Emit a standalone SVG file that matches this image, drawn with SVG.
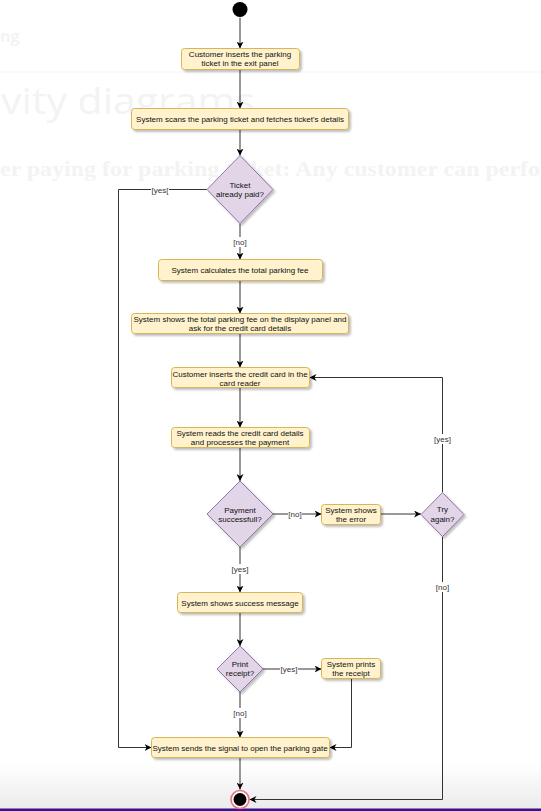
<svg xmlns="http://www.w3.org/2000/svg" width="541" height="811" viewBox="0 0 541 811">
  <defs>
    <style>
      .page-faint { fill: #f3f3f3; }
      .box { fill: #fff2cc; stroke: #d6b656; stroke-width: 1; filter: url(#shadow); }
      .dec { fill: #e1d5e7; stroke: #9673a6; stroke-width: 1; filter: url(#shadow); }
      .t { font-family: "Liberation Sans", Arial, Helvetica, sans-serif; font-size: 8px; fill: #111; text-anchor: middle; }
      .lbl { font-family: "Liberation Sans", Arial, Helvetica, sans-serif; font-size: 8px; fill: #333; text-anchor: middle; }
      .lblbg { fill: #fff; }
      .edge { fill: none; stroke: #333; stroke-width: 1; }
      .arrow { marker-end: url(#arr); }
    </style>
    <filter id="shadow" x="-20%" y="-30%" width="150%" height="180%">
      <feDropShadow dx="2" dy="2" stdDeviation="0.8" flood-color="#000" flood-opacity="0.25"/>
    </filter>
    <marker id="arr" viewBox="0 0 10 10" refX="10" refY="5" markerWidth="7" markerHeight="7" orient="auto" markerUnits="userSpaceOnUse">
      <path d="M0,0 L10,5 L0,10 L3,5 z" fill="#000"/>
    </marker>
    <linearGradient id="floor" x1="0" y1="0" x2="0" y2="1">
      <stop offset="0" stop-color="#ffffff"/>
      <stop offset="1" stop-color="#ebebeb"/>
    </linearGradient>
  </defs>

  <!-- page background behind the diagram -->
  <rect x="0" y="0" width="541" height="811" fill="#ffffff"/>
  <text class="page-faint" x="0" y="42" font-family="'Open Sans', 'Noto Sans', sans-serif" font-size="16" font-weight="bold">ng</text>
  <rect x="0" y="71.5" width="541" height="1" fill="#f5f5f5"/>
  <text class="page-faint" x="1" y="114" font-family="'Open Sans', 'Noto Sans', sans-serif" font-size="37" textLength="254" lengthAdjust="spacingAndGlyphs">vity diagrams</text>
  <text class="page-faint" x="0" y="176" font-family="'Liberation Serif', 'DejaVu Serif', serif" font-size="21" font-weight="bold" textLength="540" lengthAdjust="spacingAndGlyphs">er paying for parking ticket: Any customer can perfo</text>
  <rect x="0" y="764" width="541" height="45" fill="url(#floor)"/>
  <rect x="0" y="808.5" width="541" height="2.5" fill="#3a118e"/>

  <!-- connectors -->
  <g id="connectors">
    <path class="edge arrow" d="M240,17.5 V48.5"/>
    <path class="edge arrow" d="M240,69.5 V108.5"/>
    <path class="edge arrow" d="M240,129.5 V155.5"/>
    <path class="edge arrow" d="M240,223.5 V259.5"/>
    <path class="edge arrow" d="M207,189.5 H118.5 V747.5 H151.5"/>
    <path class="edge arrow" d="M240,280.5 V313.5"/>
    <path class="edge arrow" d="M240,333.5 V367.5"/>
    <path class="edge arrow" d="M240,387.5 V427.5"/>
    <path class="edge arrow" d="M240,447.5 V481"/>
    <path class="edge arrow" d="M273,514 H321.5"/>
    <path class="edge arrow" d="M380.5,514 H421"/>
    <path class="edge arrow" d="M442.5,492.5 V377.5 H309.5"/>
    <path class="edge arrow" d="M442.5,536.5 V799.5 H249.5"/>
    <path class="edge arrow" d="M240,547 V592.5"/>
    <path class="edge arrow" d="M240,612.5 V646"/>
    <path class="edge arrow" d="M263,669 H321.5"/>
    <path class="edge arrow" d="M351.5,678.5 V747.5 H329.5"/>
    <path class="edge arrow" d="M240,692 V737.5"/>
    <path class="edge arrow" d="M240,757.5 V789.5"/>

    <!-- guard labels -->
    <rect class="lblbg" x="233" y="237" width="14" height="10"/>
    <text class="lbl" x="240" y="245">[no]</text>
    <rect class="lblbg" x="151" y="184.5" width="18" height="10"/>
    <text class="lbl" x="160" y="192.5">[yes[</text>
    <rect class="lblbg" x="288" y="509" width="14" height="10"/>
    <text class="lbl" x="295" y="517">[no]</text>
    <rect class="lblbg" x="433.5" y="434" width="18" height="10"/>
    <text class="lbl" x="442.5" y="442">[yes]</text>
    <rect class="lblbg" x="435.5" y="582" width="14" height="10"/>
    <text class="lbl" x="442.5" y="590">[no]</text>
    <rect class="lblbg" x="231" y="564" width="18" height="10"/>
    <text class="lbl" x="240" y="572">[yes]</text>
    <rect class="lblbg" x="280" y="664" width="18" height="10"/>
    <text class="lbl" x="289" y="672">[yes]</text>
    <rect class="lblbg" x="233" y="708" width="14" height="10"/>
    <text class="lbl" x="240" y="716">[no]</text>
  </g>

  <!-- nodes -->
  <g id="start">
    <circle cx="240" cy="9.5" r="7.5" fill="#000"/>
  </g>
  <g id="insert-ticket">
    <rect class="box" x="181.5" y="48.5" width="118" height="21" rx="3"/>
    <text class="t" x="240" y="57">Customer inserts the parking</text>
    <text class="t" x="240" y="66">ticket in the exit panel</text>
  </g>
  <g id="scan-ticket">
    <rect class="box" x="131.5" y="108.5" width="217" height="21" rx="3"/>
    <text class="t" x="240" y="121.5">System scans the parking ticket and fetches ticket's details</text>
  </g>
  <g id="ticket-paid">
    <polygon class="dec" points="240,155.5 273,189.5 240,223.5 207,189.5"/>
    <text class="t" x="240" y="188">Ticket</text>
    <text class="t" x="240" y="197">already paid?</text>
  </g>
  <g id="calc-fee">
    <rect class="box" x="158.5" y="259.5" width="164" height="21" rx="3"/>
    <text class="t" x="240" y="272.5">System calculates the total parking fee</text>
  </g>
  <g id="show-fee">
    <rect class="box" x="131.5" y="313.5" width="217" height="20" rx="3"/>
    <text class="t" x="240" y="322">System shows the total parking fee on the display panel and</text>
    <text class="t" x="240" y="331">ask for the credit card details</text>
  </g>
  <g id="insert-card">
    <rect class="box" x="171.5" y="367.5" width="138" height="20" rx="3"/>
    <text class="t" x="240" y="376.5">Customer inserts the credit card in the</text>
    <text class="t" x="240" y="385.5">card reader</text>
  </g>
  <g id="process-payment">
    <rect class="box" x="171.5" y="427.5" width="138" height="20" rx="3"/>
    <text class="t" x="240" y="436">System reads the credit card details</text>
    <text class="t" x="240" y="445">and processes the payment</text>
  </g>
  <g id="payment-ok">
    <polygon class="dec" points="240,481 273,514 240,547 207,514"/>
    <text class="t" x="240" y="513">Payment</text>
    <text class="t" x="240" y="522">successfull?</text>
  </g>
  <g id="show-error">
    <rect class="box" x="321.5" y="504.5" width="59" height="20" rx="3"/>
    <text class="t" x="351" y="513">System shows</text>
    <text class="t" x="351" y="522">the error</text>
  </g>
  <g id="try-again">
    <polygon class="dec" points="442.5,492.5 464,514.5 442.5,536.5 421,514.5"/>
    <text class="t" x="442.5" y="512">Try</text>
    <text class="t" x="442.5" y="521.5">again?</text>
  </g>
  <g id="success-message">
    <rect class="box" x="177.5" y="592.5" width="125" height="20" rx="3"/>
    <text class="t" x="240" y="605.5">System shows success message</text>
  </g>
  <g id="print-receipt">
    <polygon class="dec" points="240,646 263,669 240,692 217,669"/>
    <text class="t" x="240" y="667">Print</text>
    <text class="t" x="240" y="676">receipt?</text>
  </g>
  <g id="prints-receipt">
    <rect class="box" x="321.5" y="658.5" width="59" height="20" rx="3"/>
    <text class="t" x="351" y="667">System prints</text>
    <text class="t" x="351" y="676">the receipt</text>
  </g>
  <g id="open-gate">
    <rect class="box" x="151.5" y="737.5" width="178" height="20" rx="3"/>
    <text class="t" x="240" y="750.5">System sends the signal to open the parking gate</text>
  </g>
  <g id="end">
    <circle cx="240" cy="799.5" r="9" fill="#fff" stroke="#f07080" stroke-width="1.6"/>
    <circle cx="240" cy="799.5" r="6.5" fill="#000"/>
  </g>
</svg>
